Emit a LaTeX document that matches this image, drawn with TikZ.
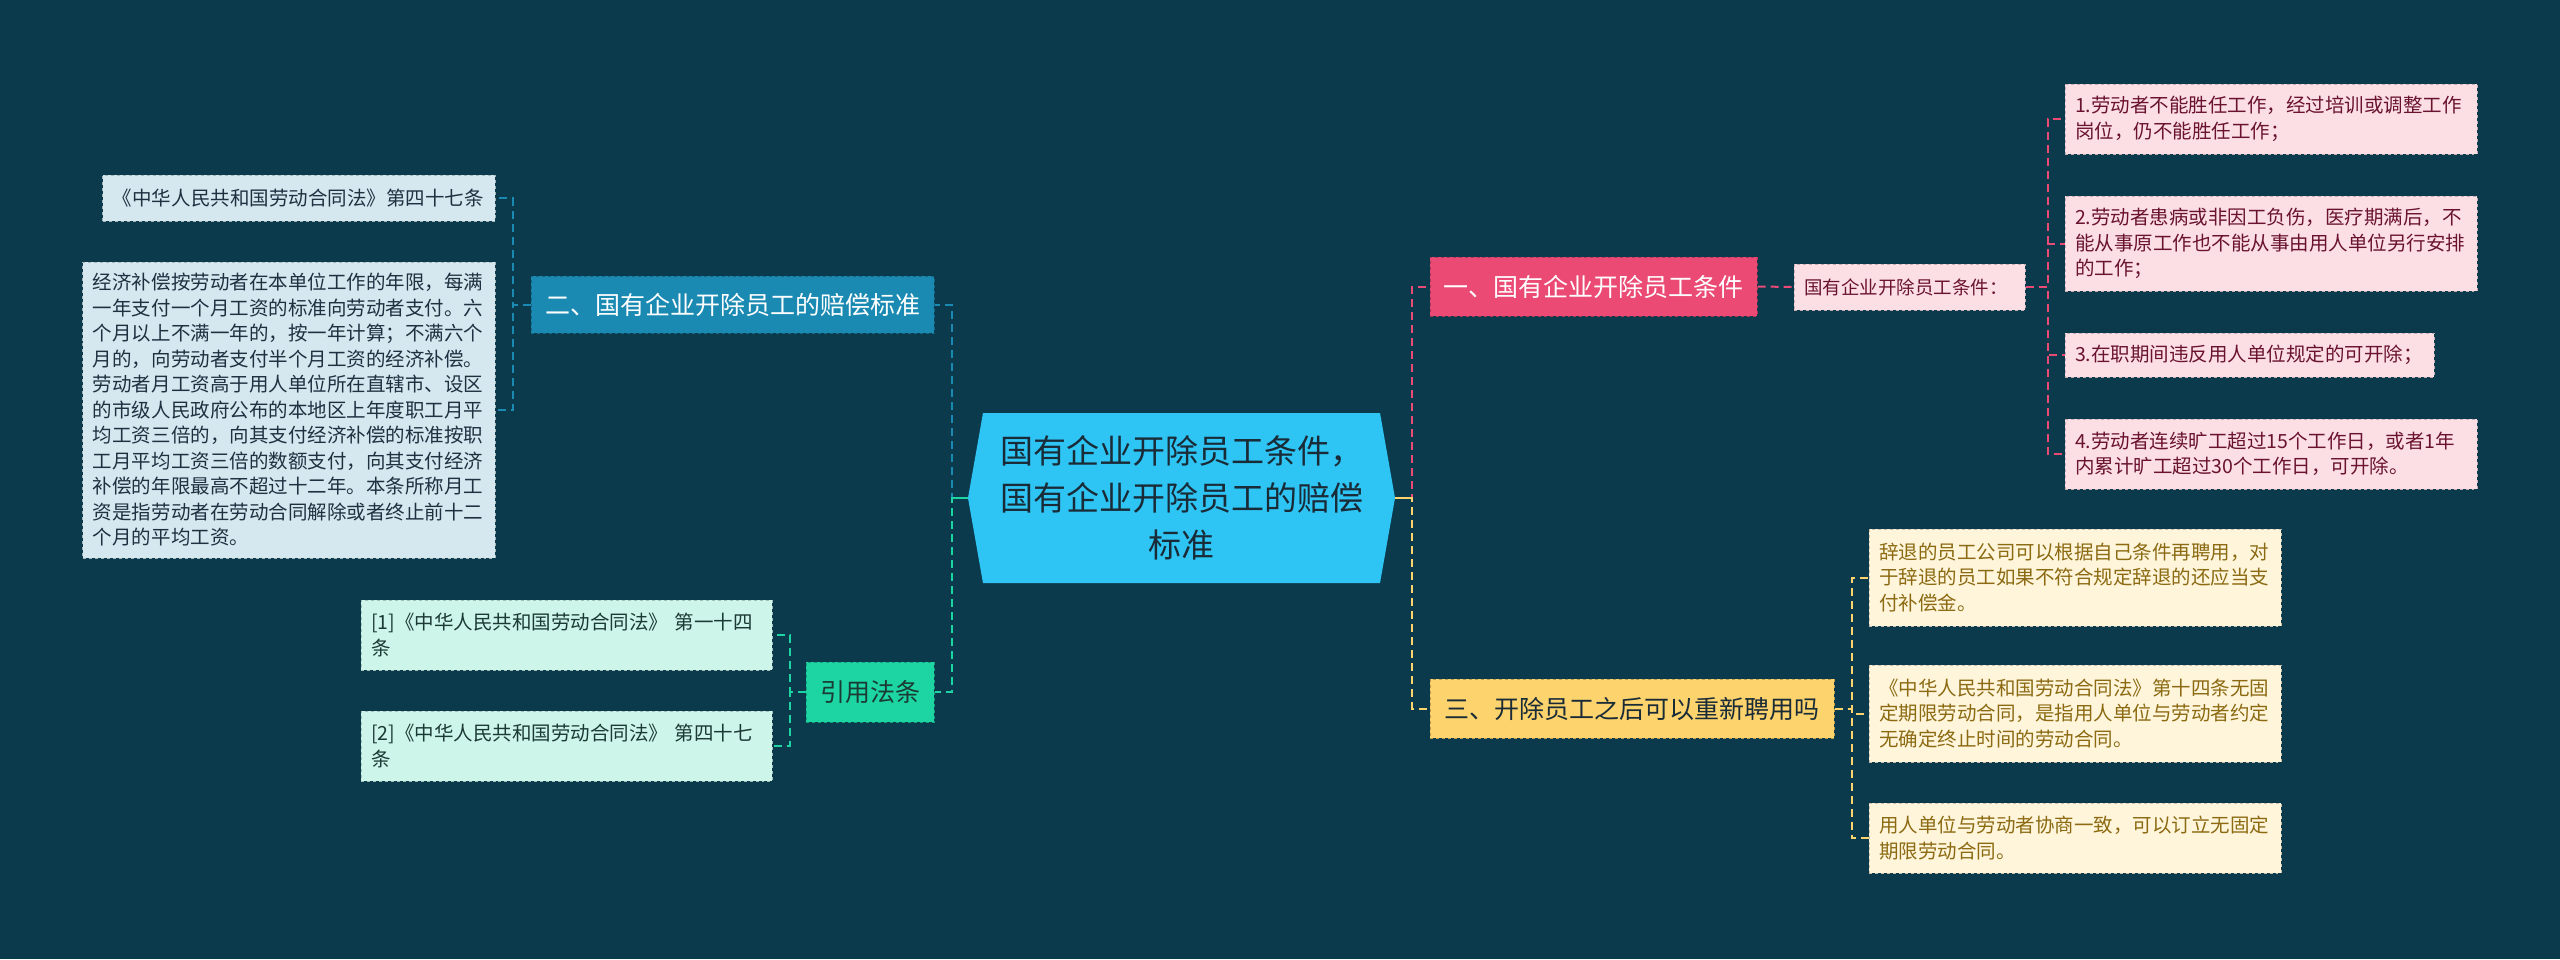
\documentclass[tikz,border=0pt]{standalone}
\usepackage{fontspec}
\setmainfont{Noto Sans CJK SC}
\usetikzlibrary{shapes.symbols}

\definecolor{bgteal}{HTML}{0C3A4D}
\definecolor{rootblue}{HTML}{2EC4F3}
\definecolor{rootink}{HTML}{1A2B38}
\definecolor{pinkbr}{HTML}{EA4A73}
\definecolor{bluebr}{HTML}{1A8AB3}
\definecolor{greenbr}{HTML}{1DD5A3}
\definecolor{yellowbr}{HTML}{FCD36C}
\definecolor{pinkleaf}{HTML}{FCDFE5}
\definecolor{blueleaf}{HTML}{D5E8EF}
\definecolor{greenleaf}{HTML}{CEF5EA}
\definecolor{yellowleaf}{HTML}{FFF5DB}
\definecolor{pinkink}{HTML}{6A1330}
\definecolor{blueink}{HTML}{1E3141}
\definecolor{greenink}{HTML}{1B3A33}
\definecolor{yellowink}{HTML}{8B6A12}

\begin{document}
\begin{tikzpicture}[
  x=1bp, y=-1bp,
  root/.style={shape=signal, signal to=west and east, signal pointer angle=160,
               fill=rootblue, text=rootink, align=center, inner sep=0pt,
               font=\fontsize{33bp}{47bp}\selectfont,
               minimum width=427bp, minimum height=170bp},
  topic/.style={draw=#1!75!black, fill=#1, dashed, line width=1bp, align=center,
                inner sep=0pt, font=\fontsize{25bp}{30bp}\selectfont},
  leaf/.style={draw=#1!78!black, fill=#1, dashed, line width=1bp, align=left,
               inner xsep=10bp, inner ysep=0pt,
               font=\fontsize{19.5bp}{25.5bp}\selectfont},
  link/.style={draw=#1, line width=2bp, dash pattern=on 8bp off 5bp}
]
\path[use as bounding box, fill=bgteal] (0,0) rectangle (2560,959);

% centre
\node[root] (root) at (1181.5,498) {国有企业开除员工条件，\\国有企业开除员工的赔偿\\标准};

% left side
\node[topic=bluebr, text=white, minimum width=403bp, minimum height=57bp] (two) at (732.5,304.5) {二、国有企业开除员工的赔偿标准};
\node[leaf=blueleaf, text=blueink, text width=372bp, minimum height=46bp] (b1) at (299,198) {《中华人民共和国劳动合同法》第四十七条};
\node[leaf=blueleaf, text=blueink, text width=392bp, minimum height=296bp] (b2) at (289,410) {经济补偿按劳动者在本单位工作的年限，每满\\一年支付一个月工资的标准向劳动者支付。六\\个月以上不满一年的，按一年计算；不满六个\\月的，向劳动者支付半个月工资的经济补偿。\\劳动者月工资高于用人单位所在直辖市、设区\\的市级人民政府公布的本地区上年度职工月平\\均工资三倍的，向其支付经济补偿的标准按职\\工月平均工资三倍的数额支付，向其支付经济\\补偿的年限最高不超过十二年。本条所称月工\\资是指劳动者在劳动合同解除或者终止前十二\\个月的平均工资。};

\node[topic=greenbr, text=greenink, minimum width=128bp, minimum height=60bp] (cite) at (870,692) {引用法条};
\node[leaf=greenleaf, text=greenink, text width=391bp, minimum height=70bp] (c1) at (566.5,635) {[1]《中华人民共和国劳动合同法》 第一十四\\条};
\node[leaf=greenleaf, text=greenink, text width=391bp, minimum height=70bp] (c2) at (566.5,746) {[2]《中华人民共和国劳动合同法》 第四十七\\条};

% right side
\node[topic=pinkbr, text=white, minimum width=327bp, minimum height=59bp] (one) at (1593.5,286.5) {一、国有企业开除员工条件};
\node[leaf=pinkleaf, text=pinkink, text width=211bp, minimum height=46bp,
      font=\fontsize{18.5bp}{24bp}\selectfont] (cond) at (1909.5,287) {国有企业开除员工条件：};
\node[leaf=pinkleaf, text=pinkink, text width=392bp, minimum height=70bp] (p1) at (2271,119) {1.劳动者不能胜任工作，经过培训或调整工作\\岗位，仍不能胜任工作；};
\node[leaf=pinkleaf, text=pinkink, text width=392bp, minimum height=95bp] (p2) at (2271,243.5) {2.劳动者患病或非因工负伤，医疗期满后，不\\能从事原工作也不能从事由用人单位另行安排\\的工作；};
\node[leaf=pinkleaf, text=pinkink, text width=349bp, minimum height=44bp] (p3) at (2249.5,355) {3.在职期间违反用人单位规定的可开除；};
\node[leaf=pinkleaf, text=pinkink, text width=392bp, minimum height=70bp] (p4) at (2271,454) {4.劳动者连续旷工超过15个工作日，或者1年\\内累计旷工超过30个工作日，可开除。};

\node[topic=yellowbr, text=rootink, minimum width=404bp, minimum height=59bp] (three) at (1632,708.5) {三、开除员工之后可以重新聘用吗};
\node[leaf=yellowleaf, text=yellowink, text width=392bp, minimum height=97bp] (y1) at (2075,577.5) {辞退的员工公司可以根据自己条件再聘用，对\\于辞退的员工如果不符合规定辞退的还应当支\\付补偿金。};
\node[leaf=yellowleaf, text=yellowink, text width=392bp, minimum height=97bp] (y2) at (2075,713.5) {《中华人民共和国劳动合同法》第十四条无固\\定期限劳动合同，是指用人单位与劳动者约定\\无确定终止时间的劳动合同。};
\node[leaf=yellowleaf, text=yellowink, text width=392bp, minimum height=70bp] (y3) at (2075,838) {用人单位与劳动者协商一致，可以订立无固定\\期限劳动合同。};

% connectors
\draw[link=bluebr] (root.west) -- ++(-16,0) |- (two.east);
\draw[link=greenbr] (root.west) -- ++(-16,0) |- (cite.east);
\draw[link=bluebr] (two.west) -- ++(-18,0) |- (b1.east);
\draw[link=bluebr] (two.west) -- ++(-18,0) |- (b2.east);
\draw[link=greenbr] (cite.west) -- ++(-16,0) |- (c1.east);
\draw[link=greenbr] (cite.west) -- ++(-16,0) |- (c2.east);
\draw[link=pinkbr] (root.east) -- ++(17,0) |- (one.west);
\draw[link=yellowbr] (root.east) -- ++(17,0) |- (three.west);
\draw[link=pinkbr] (one.east) -- (cond.west);
\foreach \leaf in {p1,p2,p3,p4}
  \draw[link=pinkbr] (cond.east) -- ++(22,0) |- (\leaf.west);
\foreach \leaf in {y1,y2,y3}
  \draw[link=yellowbr] (three.east) -- ++(17,0) |- (\leaf.west);
\draw[greenbr, line width=2bp] (root.west) -- ++(-16,0);
\draw[yellowbr, line width=2bp] (root.east) -- ++(17,0);
\end{tikzpicture}
\end{document}
